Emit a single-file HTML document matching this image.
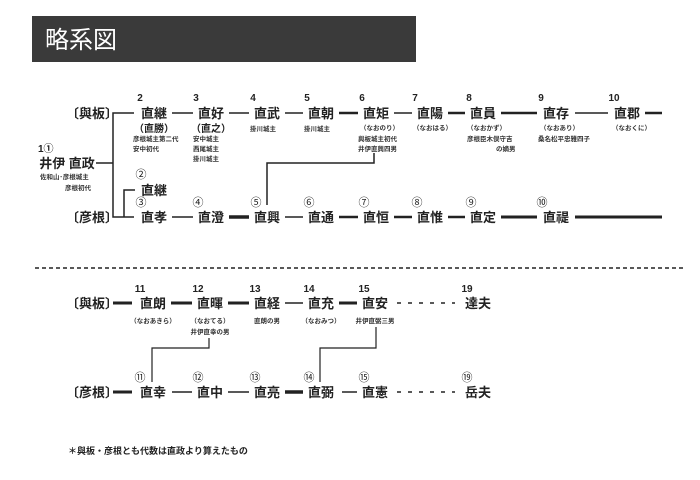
<!DOCTYPE html>
<html><head><meta charset="utf-8"><style>
body{margin:0;background:#fff;}
svg{display:block;font-family:"Liberation Sans","Noto Sans CJK JP",sans-serif;}
.n{font-size:13px;font-weight:bold;text-anchor:middle;fill:#222;}
.g{font-size:10px;font-weight:bold;text-anchor:middle;fill:#222;}
.c{font-size:11px;text-anchor:middle;fill:#222;}
.s{font-size:6.5px;font-weight:bold;fill:#333;}
.sc{font-size:6.5px;font-weight:bold;fill:#333;text-anchor:middle;}
.l{font-size:13px;font-weight:bold;fill:#222;}
line,polyline{stroke:#222;fill:none;}
</style></head><body>
<svg width="700" height="480" viewBox="0 0 700 480">
<rect x="32" y="16" width="384" height="46" fill="#3a3a3a"/>
<text x="45" y="48" font-size="24" fill="#fff">略系図</text>

<text x="66" y="118" class="l">〔與板〕</text>
<text x="66" y="222" class="l">〔彦根〕</text>
<text x="66" y="308" class="l">〔與板〕</text>
<text x="66" y="397" class="l">〔彦根〕</text>

<polyline points="134,113 113,113 113,217 134,217" stroke-width="1.5"/>
<line x1="96" y1="163" x2="113" y2="163" stroke-width="1.5"/>
<polyline points="135,190 124,190 124,217" stroke-width="1.5"/>

<text x="38" y="152" font-size="10" font-weight="bold" fill="#222">1①</text>
<text x="67" y="168" class="n">井伊 直政</text>
<text x="40" y="179" class="s">佐和山･彦根城主</text>
<text x="65" y="190" class="s">彦根初代</text>

<g class="g"><text x="140" y="101">2</text><text x="196" y="101">3</text><text x="253" y="101">4</text><text x="307" y="101">5</text><text x="362" y="101">6</text><text x="415" y="101">7</text><text x="469" y="101">8</text><text x="541" y="101">9</text><text x="614" y="101">10</text></g>
<g class="n"><text x="154" y="118">直継</text><text x="211" y="118">直好</text><text x="267" y="118">直武</text><text x="321" y="118">直朝</text><text x="376" y="118">直矩</text><text x="430" y="118">直陽</text><text x="483" y="118">直員</text><text x="556" y="118">直存</text><text x="627" y="118">直郡</text></g>
<line x1="172" y1="113" x2="193" y2="113" stroke-width="1.5"/>
<line x1="229" y1="113" x2="249" y2="113" stroke-width="1.5"/>
<line x1="285" y1="113" x2="303" y2="113" stroke-width="1.5"/>
<line x1="339" y1="113" x2="358" y2="113" stroke-width="2.5"/>
<line x1="394" y1="113" x2="412" y2="113" stroke-width="1.5"/>
<line x1="448" y1="113" x2="465" y2="113" stroke-width="2.5"/>
<line x1="501" y1="113" x2="537" y2="113" stroke-width="2.5"/>
<line x1="575" y1="113" x2="608" y2="113" stroke-width="1.5"/>
<line x1="645" y1="113" x2="662" y2="113" stroke-width="2.5"/>
<text x="154" y="132" class="g">（直勝）</text>
<text x="211" y="132" class="g">（直之）</text>
<text x="133" y="141" class="s">彦根城主第二代</text><text x="133" y="151" class="s">安中初代</text>
<text x="193" y="141" class="s">安中城主</text><text x="193" y="151" class="s">西尾城主</text><text x="193" y="161" class="s">掛川城主</text>
<text x="250" y="131" class="s">掛川城主</text>
<text x="304" y="131" class="s">掛川城主</text>
<text x="360" y="130" class="s">（なおのり）</text><text x="358" y="141" class="s">與板城主初代</text><text x="358" y="151" class="s">井伊直興四男</text>
<text x="413" y="130" class="s">（なおはる）</text>
<text x="467" y="130" class="s">（なおかず）</text><text x="467" y="141" class="s">彦根臣木俣守吉</text><text x="496" y="151" class="s">の嫡男</text>
<text x="540" y="130" class="s">（なおあり）</text><text x="538" y="141" class="s">桑名松平忠雅四子</text>
<text x="612" y="130" class="s">（なおくに）</text>
<polyline points="267,205 267,163 374,163 374,153" stroke-width="1.5"/>

<g class="c"><text x="141" y="178">②</text><text x="141" y="206">③</text><text x="198" y="206">④</text><text x="256" y="206">⑤</text><text x="309" y="206">⑥</text><text x="364" y="206">⑦</text><text x="417" y="206">⑧</text><text x="471" y="206">⑨</text><text x="542" y="206">⑩</text></g>
<g class="n"><text x="154" y="195">直継</text><text x="154" y="222">直孝</text><text x="211" y="222">直澄</text><text x="267" y="222">直興</text><text x="321" y="222">直通</text><text x="376" y="222">直恒</text><text x="430" y="222">直惟</text><text x="483" y="222">直定</text><text x="556" y="222">直禔</text></g>
<line x1="172" y1="217" x2="193" y2="217" stroke-width="1.5"/>
<line x1="229" y1="217" x2="249" y2="217" stroke-width="3.5"/>
<line x1="285" y1="217" x2="303" y2="217" stroke-width="1.5"/>
<line x1="339" y1="217" x2="358" y2="217" stroke-width="2.5"/>
<line x1="394" y1="217" x2="412" y2="217" stroke-width="2.5"/>
<line x1="448" y1="217" x2="465" y2="217" stroke-width="2.5"/>
<line x1="501" y1="217" x2="537" y2="217" stroke-width="3"/>
<line x1="575" y1="217" x2="662" y2="217" stroke-width="3"/>

<line x1="35" y1="268" x2="685" y2="268" stroke-width="1.5" stroke-dasharray="4,3"/>

<line x1="113" y1="303" x2="132" y2="303" stroke-width="3"/>
<line x1="113" y1="392" x2="132" y2="392" stroke-width="3"/>
<g class="g"><text x="140" y="292">11</text><text x="198" y="292">12</text><text x="255" y="292">13</text><text x="309" y="292">14</text><text x="364" y="292">15</text><text x="467" y="292">19</text></g>
<g class="n"><text x="153" y="308">直朗</text><text x="210" y="308">直暉</text><text x="267" y="308">直経</text><text x="321" y="308">直充</text><text x="375" y="308">直安</text><text x="478" y="308">達夫</text></g>
<line x1="171" y1="303" x2="192" y2="303" stroke-width="3"/>
<line x1="228" y1="303" x2="249" y2="303" stroke-width="3"/>
<line x1="285" y1="303" x2="303" y2="303" stroke-width="1.5"/>
<line x1="339" y1="303" x2="357" y2="303" stroke-width="3"/>
<line x1="397" y1="303" x2="455" y2="303" stroke-width="1.5" stroke-dasharray="4,7"/>
<text x="153" y="323" class="sc">（なおあきら）</text>
<text x="210" y="323" class="sc">（なおてる）</text><text x="210" y="334" class="sc">井伊直幸の男</text>
<text x="267" y="323" class="sc">直朗の男</text>
<text x="321" y="323" class="sc">（なおみつ）</text>
<text x="375" y="323" class="sc">井伊直弼三男</text>
<polyline points="209,338 209,348 152,348 152,382" stroke-width="1.2"/>
<polyline points="376,327 376,348 320,348 320,382" stroke-width="1.2"/>

<g class="c"><text x="140" y="381">⑪</text><text x="198" y="381">⑫</text><text x="255" y="381">⑬</text><text x="309" y="381">⑭</text><text x="364" y="381">⑮</text><text x="467" y="381">⑲</text></g>
<g class="n"><text x="153" y="397">直幸</text><text x="210" y="397">直中</text><text x="267" y="397">直亮</text><text x="321" y="397">直弼</text><text x="375" y="397">直憲</text><text x="478" y="397">岳夫</text></g>
<line x1="172" y1="392" x2="192" y2="392" stroke-width="1.5"/>
<line x1="228" y1="392" x2="249" y2="392" stroke-width="1.5"/>
<line x1="285" y1="392" x2="303" y2="392" stroke-width="3.5"/>
<line x1="342" y1="392" x2="357" y2="392" stroke-width="1.5"/>
<line x1="397" y1="392" x2="455" y2="392" stroke-width="1.5" stroke-dasharray="4,7"/>

<text x="68" y="454" font-size="9" font-weight="bold" fill="#222">＊與板・彦根とも代数は直政より算えたもの</text>
</svg>
</body></html>
